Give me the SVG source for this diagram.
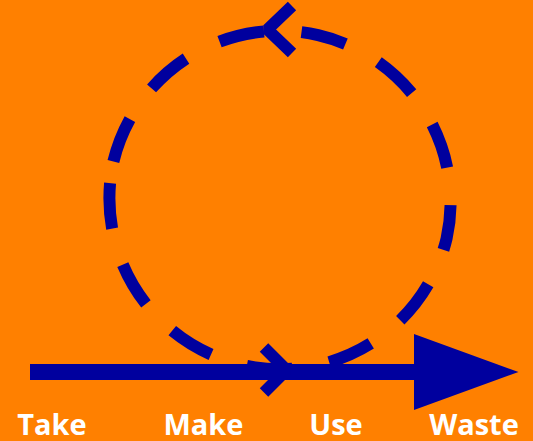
<svg xmlns="http://www.w3.org/2000/svg" width="533" height="441" viewBox="0 0 533 441">
<style>
.lbl{font-family:"Open Sans","Liberation Sans",sans-serif;font-weight:bold;font-size:29px;fill:#ffffff;text-anchor:middle}
.stk{fill:none;stroke:#00009e;stroke-width:12}
.chev{fill:none;stroke:#00009e;stroke-width:12;stroke-linejoin:bevel}
</style>
<rect x="0" y="0" width="533" height="441" fill="#ff8000"/>
<g id="connectors">
<path id="cycle" class="stk" pathLength="360" stroke-dasharray="15.4 12.7" d="M113.4,161.5 A171,171 0 0 1 446.6,238.5 A171,171 0 0 1 113.4,161.5"/>
<polyline id="chev-top" class="chev" points="292,6 267.5,29.5 292,53"/>
<line id="linear" x1="30" y1="372" x2="416" y2="372" stroke="#00009e" stroke-width="16"/>
<polygon id="linear-head" points="414,334 518.5,372 414,410" fill="#00009e"/>
<polyline id="chev-bottom" class="chev" points="264,347.5 286.5,370 264,392.5"/>
</g>
<g id="take"><text class="lbl" x="52" y="434.5">Take</text></g>
<g id="make"><text class="lbl" x="203.5" y="434.5">Make</text></g>
<g id="use"><text class="lbl" x="336" y="434.5">Use</text></g>
<g id="waste"><text class="lbl" x="474" y="434.5">Waste</text></g>
</svg>
